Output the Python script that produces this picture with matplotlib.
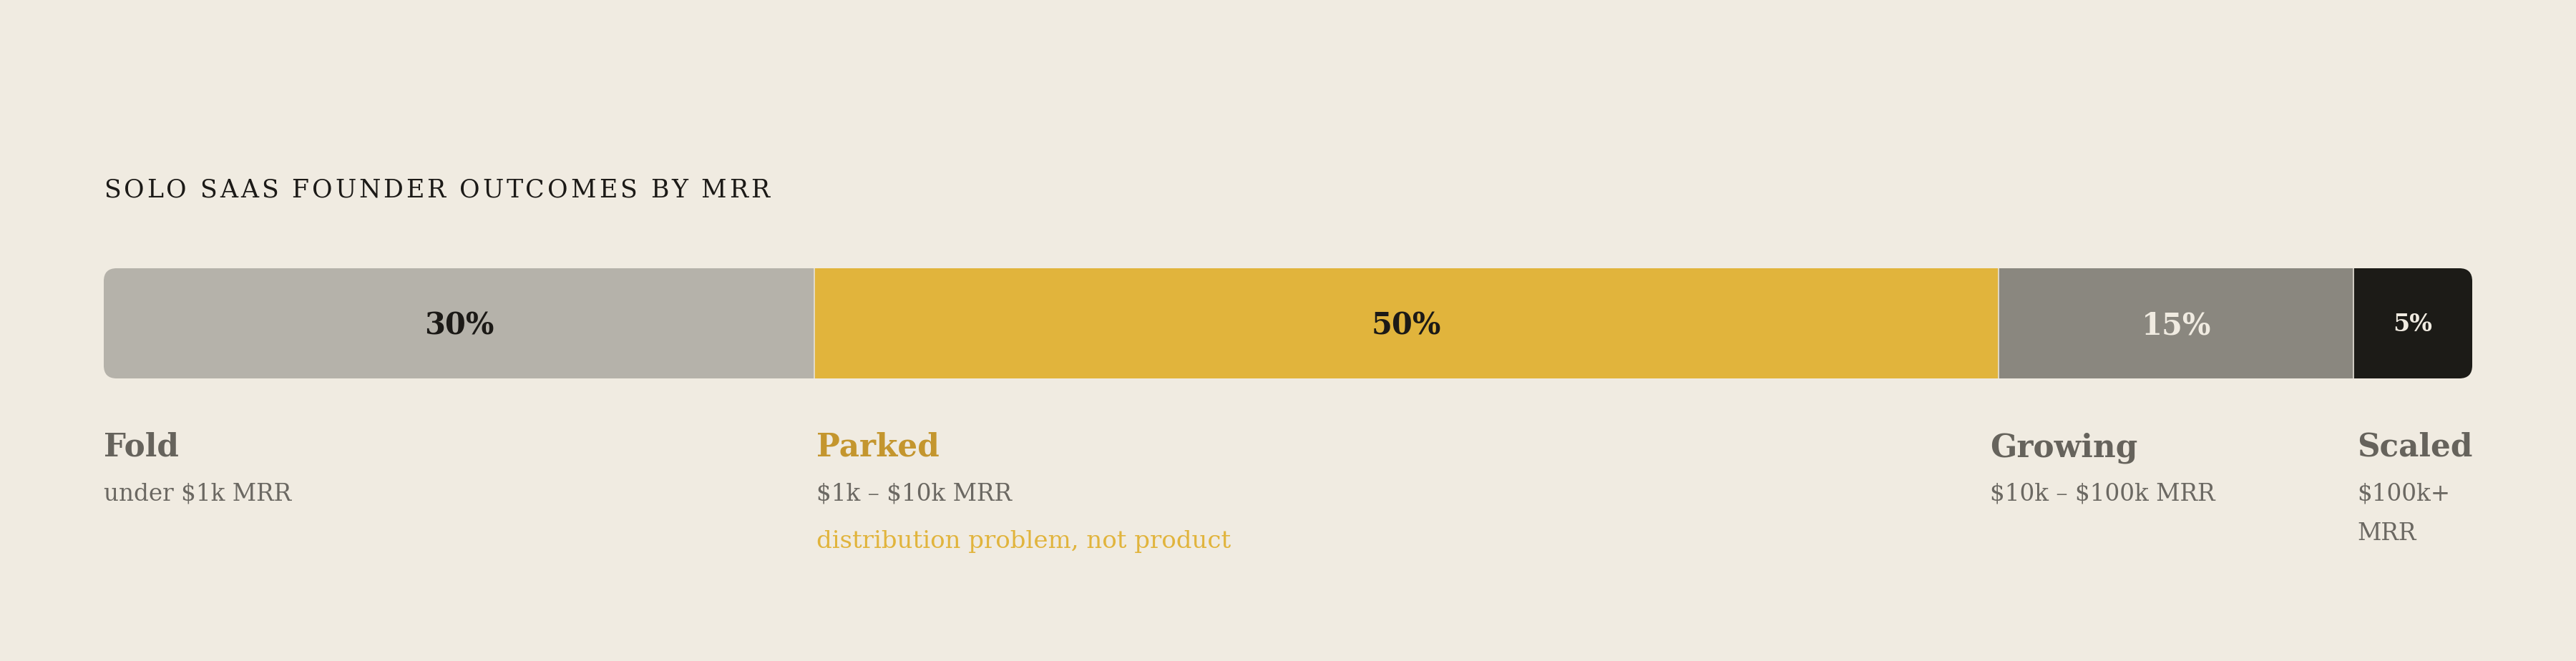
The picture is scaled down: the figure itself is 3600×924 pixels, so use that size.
import matplotlib.pyplot as plt
from matplotlib.patches import FancyBboxPatch

plt.rcParams["text.parse_math"] = False

title = "SOLO SAAS FOUNDER OUTCOMES BY MRR"
categories = ["Fold", "Parked", "Growing", "Scaled"]
shares = [30, 50, 15, 5]
ranges = ["under $1k MRR", "$1k – $10k MRR", "$10k – $100k MRR", "$100k+\nMRR"]
notes = ["", "distribution problem, not product", "", ""]

BG = "#f0ebe1"
bar_colors = ["#b5b2aa", "#e1b43c", "#8a877f", "#1c1b17"]
pct_colors = ["#1c1a17", "#1c1a17", "#f0ebe1", "#f0ebe1"]
head_colors = ["#66635c", "#c4962e", "#66635c", "#66635c"]
SUB_COLOR = "#6b6862"
NOTE_COLOR = "#e1b43c"
FONT = "DejaVu Serif"

W, H, DPI = 3600, 924, 100
fig = plt.figure(figsize=(W / DPI, H / DPI), dpi=DPI, facecolor=BG)

# axes spans the bar horizontally (0..100 %), y is in pixels from the top
bar_left, bar_width = 145, 3310
px = bar_width / 100
ax = fig.add_axes([bar_left / W, 0, bar_width / W, 1])
ax.set_xlim(0, 100)
ax.set_ylim(H, 0)
ax.axis("off")

bar_top, bar_h = 375, 154
lefts = [sum(shares[:i]) for i in range(len(shares))]
bars = ax.barh(bar_top + bar_h / 2, shares, left=lefts, height=bar_h,
               color=bar_colors, linewidth=0)

clip = FancyBboxPatch((0, bar_top), 100, bar_h,
                      boxstyle=f"round,pad=0,rounding_size={18 / px}",
                      mutation_aspect=px, transform=ax.transData,
                      facecolor="none", edgecolor="none")
ax.add_patch(clip)
for b in bars:
    b.set_clip_path(clip)

ax.vlines(lefts[1:], bar_top, bar_top + bar_h, color="#e6e2d8", lw=1.2)

for left, share, col in zip(lefts, shares, pct_colors):
    small = share < 10
    ax.text(left + share / 2, 467 if not small else 463, f"{share}%",
            ha="center", va="baseline", fontsize=24 if small else 30,
            fontweight="bold", color=col, family=FONT)

# title with letter spacing
renderer = fig.canvas.get_renderer()


def text_width(s, **kw):
    t = fig.text(0, 0, s + "x", **kw)
    w1 = t.get_window_extent(renderer).width
    t.set_text("x")
    w2 = t.get_window_extent(renderer).width
    t.remove()
    return w1 - w2


title_kw = dict(fontsize=25, color="#1c1a17", family=FONT)
natural = text_width(title, **title_kw)
spacing = (930 - natural) / (len(title) - 1)
for i, ch in enumerate(title):
    if ch == " ":
        continue
    x_px = text_width(title[:i], **title_kw) + i * spacing
    ax.text(x_px / px, 276, ch, ha="left", va="baseline", **title_kw)

# labels under the bar, in columns with small gaps
gap = 30 / px
n = len(shares)
for i, (cat, rng, note) in enumerate(zip(categories, ranges, notes)):
    x = lefts[i] * (100 - (n - 1) * gap) / 100 + i * gap
    ax.text(x, 638, cat, ha="left", va="baseline", fontsize=31.5,
            fontweight="bold", color=head_colors[i], family=FONT)
    for k, line in enumerate(rng.split("\n")):
        ax.text(x, 700 + k * 55, line, ha="left", va="baseline", fontsize=23.5,
                color=SUB_COLOR, family=FONT)
    if note:
        ax.text(x, 766, note, ha="left", va="baseline", fontsize=24.5,
                color=NOTE_COLOR, family=FONT)

fig.savefig("out.png", dpi=DPI, facecolor=BG)
